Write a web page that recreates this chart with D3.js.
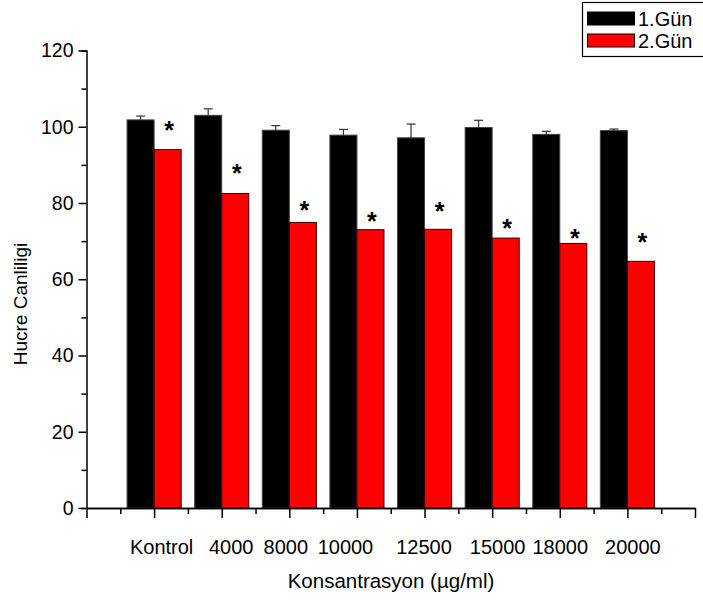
<!DOCTYPE html>
<html lang="tr">
  <head>
    <meta charset="utf-8">
    <title>Hucre Canliligi</title>
    <script type="text/javascript" src="https://cdn.jsdelivr.net/npm/d3@7"></script>
    <style>
      body { margin: 0; background: #fff; }
      text { font-family: "Liberation Sans", Arial, sans-serif; }
    </style>
  </head>
  <body>
    <script type="text/javascript">
      // Data
      var categories = ["Kontrol", "4000", "8000", "10000", "12500", "15000", "18000", "20000"];
      var gun1 = [101.8, 103.0, 99.1, 97.8, 97.1, 99.8, 98.0, 99.0];
      var gun1Err = [1.0, 1.7, 1.2, 1.5, 3.6, 1.9, 0.8, 0.4];
      var gun2 = [94.0, 82.5, 74.9, 73.0, 73.1, 70.8, 69.4, 64.7];
      var starLevel = [100.4, 89.1, 79.6, 76.5, 79.2, 74.7, 72.1, 71.0];
      var seriesNames = ["1.Gün", "2.Gün"];
      var seriesColors = ["#000000", "#ff0000"];
      var yTicks = [0, 20, 40, 60, 80, 100, 120];

      // the category labels were typed by hand, so they sit a bit off their ticks
      var labelNudge = [7, 9, -4, -12, -1, 5, 0, 5];

      var width = 703, height = 601;

      var svg = d3.select("body").append("svg")
                  .attr("width", width)
                  .attr("height", height);

      // Scales (x positions 0..9, groups sit on 1..8)
      var x = d3.scaleLinear().domain([0, 9]).range([86.5, 695]);
      var y = d3.scaleLinear().domain([0, 120]).range([508, 50.5]);
      var barW = (x(1) - x(0)) * 0.4;

      // Bars
      var g1 = svg.append("g");
      g1.selectAll("rect")
        .data(gun1)
        .enter()
        .append("rect")
        .attr("x", function(d, i) { return x(i + 1) - barW; })
        .attr("y", function(d) { return y(d); })
        .attr("width", barW)
        .attr("height", function(d) { return y(0) - y(d); })
        .attr("fill", seriesColors[0])
        .attr("stroke", "#444")
        .attr("stroke-width", 1);

      var g2 = svg.append("g");
      g2.selectAll("rect")
        .data(gun2)
        .enter()
        .append("rect")
        .attr("x", function(d, i) { return x(i + 1); })
        .attr("y", function(d) { return y(d); })
        .attr("width", barW)
        .attr("height", function(d) { return y(0) - y(d); })
        .attr("fill", seriesColors[1])
        .attr("stroke", "#300")
        .attr("stroke-width", 1);

      // Error bars (upper only) on 1.Gün
      var eb = svg.append("g").attr("stroke", "#333").attr("stroke-width", 1.2);
      gun1.forEach(function(d, i) {
        var cx = x(i + 1) - barW / 2;
        eb.append("line")
          .attr("x1", cx).attr("x2", cx)
          .attr("y1", y(d)).attr("y2", y(d + gun1Err[i]));
        eb.append("line")
          .attr("x1", cx - 4.5).attr("x2", cx + 4.5)
          .attr("y1", y(d + gun1Err[i])).attr("y2", y(d + gun1Err[i]));
      });

      // Significance stars
      svg.append("g").selectAll("text")
        .data(starLevel)
        .enter()
        .append("text")
        .attr("x", function(d, i) { return x(i + 1) + barW / 2 + 1.5; })
        .attr("y", function(d) { return y(d) + 14; })
        .attr("text-anchor", "middle")
        .attr("font-size", "25px")
        .attr("font-weight", "bold")
        .attr("fill", "#000")
        .text("*");

      // Y axis
      var yAxisG = svg.append("g").attr("transform", "translate(" + x(0) + ",0)");
      yAxisG.call(d3.axisLeft(y).tickValues(d3.range(10, 120, 20)).tickSize(5).tickFormat(""));
      yAxisG.append("g").call(d3.axisLeft(y).tickValues(yTicks).tickSize(8).tickPadding(5));
      yAxisG.selectAll("path.domain").filter(function(d, i) { return i > 0; }).remove();
      yAxisG.selectAll("path.domain").attr("stroke-width", 1.5);
      yAxisG.selectAll("line").attr("stroke-width", 1.5);
      yAxisG.selectAll("text").attr("font-size", "19.5px").attr("fill", "#000");

      // X axis
      var xAxisG = svg.append("g").attr("transform", "translate(0," + y(0) + ")");
      xAxisG.call(d3.axisBottom(x).tickValues(d3.range(0.5, 9, 1)).tickSize(6).tickFormat("").tickSizeOuter(0));
      xAxisG.append("g").call(d3.axisBottom(x).tickValues(d3.range(0, 10, 1)).tickSize(10).tickSizeOuter(0)
        .tickPadding(22)
        .tickFormat(function(d) { return (d >= 1 && d <= 8) ? categories[d - 1] : ""; }));
      xAxisG.selectAll("path.domain").attr("stroke-width", 1.5);
      xAxisG.selectAll("line").attr("stroke-width", 1.5);
      xAxisG.selectAll("text")
        .attr("font-size", "20px")
        .attr("fill", "#000")
        .attr("dx", function(d) { return (d >= 1 && d <= 8) ? labelNudge[d - 1] : 0; });

      // Axis titles
      svg.append("text")
        .attr("x", 391)
        .attr("y", 588)
        .attr("text-anchor", "middle")
        .attr("font-size", "20.5px")
        .text("Konsantrasyon (µg/ml)");

      svg.append("text")
        .attr("transform", "translate(27," + 304 + ") rotate(-90)")
        .attr("text-anchor", "middle")
        .attr("font-size", "19px")
        .text("Hucre Canliligi");

      // Legend
      var legend = svg.append("g");
      legend.append("rect")
        .attr("x", 582.5).attr("y", 2.5)
        .attr("width", 130).attr("height", 54)
        .attr("fill", "none")
        .attr("stroke", "#000")
        .attr("stroke-width", 1.2);
      seriesNames.forEach(function(name, i) {
        legend.append("rect")
          .attr("x", 587.5).attr("y", 12 + i * 22)
          .attr("width", 47).attr("height", 13)
          .attr("fill", seriesColors[i])
          .attr("stroke", "#000")
          .attr("stroke-width", 1);
        legend.append("text")
          .attr("x", 638).attr("y", 26 + i * 22)
          .attr("font-size", "20px")
          .text(name);
      });
    </script>
  </body>
</html>
